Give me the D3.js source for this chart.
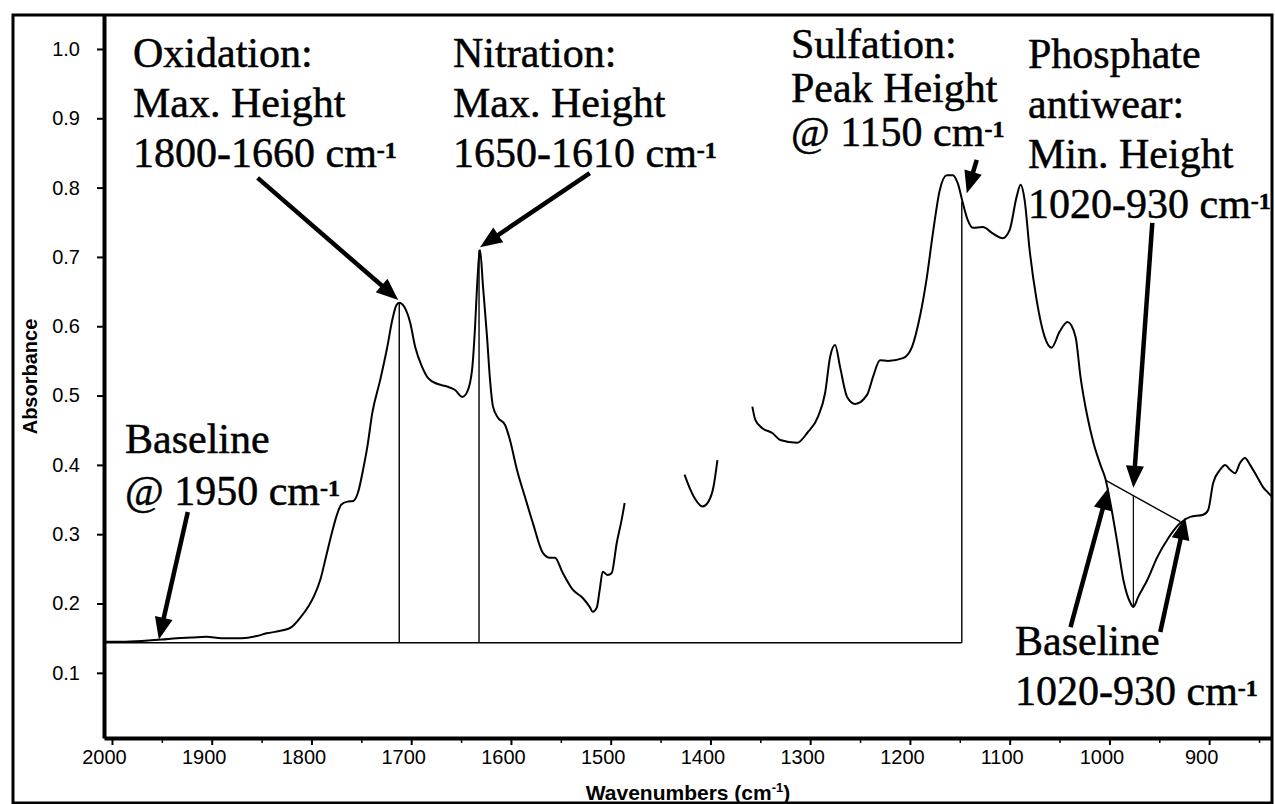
<!DOCTYPE html>
<html>
<head>
<meta charset="utf-8">
<script src="https://cdn.jsdelivr.net/npm/d3@7"></script>
<style>
  body { margin: 0; background: #fff; }
  svg { display: block; }
</style>
</head>
<body>
<div id="chart"></div>
<script>
// spectrum in three pieces (gaps where the trace is cut)
var seg1Wave = [2008,1990,1970,1950,1935,1920,1905,1890,1870,1855,1845,1830,1820,1811,1803,1797,1791,1785,1779,1774,1770,1764,1758,1753,1748,1744,1739,1731,1724,1719,1715,1712,1707,1701,1696,1689,1683,1674,1664,1656,1649,1644,1639,1636,1634,1631,1628,1624,1621,1618,1613,1606,1601,1594,1586,1578,1568,1561,1556,1548,1538,1528,1521,1518,1514,1511,1508,1503,1499,1494,1489,1486];
var seg1Abs  = [0.145,0.145,0.146,0.148,0.150,0.151,0.152,0.150,0.150,0.153,0.157,0.161,0.166,0.180,0.196,0.212,0.235,0.270,0.305,0.330,0.343,0.347,0.348,0.362,0.395,0.426,0.475,0.523,0.570,0.609,0.630,0.634,0.628,0.605,0.570,0.541,0.525,0.517,0.513,0.508,0.498,0.505,0.537,0.599,0.657,0.710,0.657,0.585,0.523,0.484,0.468,0.458,0.436,0.393,0.354,0.316,0.273,0.266,0.266,0.244,0.220,0.208,0.195,0.188,0.194,0.220,0.246,0.241,0.244,0.287,0.321,0.345];

var seg2Wave = [1426,1420,1415,1408,1402,1397,1393];
var seg2Abs  = [0.386,0.364,0.350,0.340,0.347,0.368,0.407];

var seg3Wave = [1358,1355,1348,1338,1330,1313,1303,1292,1285,1280,1275,1270,1263,1255,1243,1237,1230,1222,1207,1198,1190,1183,1177,1170,1163,1157,1152,1147,1142,1137,1127,1117,1107,1100,1093,1089,1085,1080,1073,1065,1058,1050,1042,1034,1029,1022,1016,1009,1004,999,992,986,979,976,971,962,952,942,929,919,906,901,896,889,884,879,874,869,864,859,852,846,841,837];
var seg3Abs  = [0.484,0.465,0.453,0.446,0.436,0.432,0.446,0.470,0.504,0.556,0.573,0.541,0.498,0.488,0.501,0.527,0.551,0.550,0.554,0.570,0.614,0.671,0.734,0.797,0.818,0.818,0.806,0.778,0.753,0.742,0.743,0.734,0.727,0.739,0.787,0.804,0.782,0.710,0.638,0.585,0.569,0.592,0.606,0.585,0.527,0.469,0.432,0.400,0.380,0.345,0.287,0.234,0.201,0.195,0.210,0.234,0.267,0.292,0.316,0.325,0.328,0.335,0.374,0.393,0.400,0.393,0.388,0.403,0.410,0.400,0.383,0.368,0.360,0.354];

// measurement lines: common baseline and the drops to it
var baseAbs = 0.1435;
var baseFrom = 2008, baseTo = 1148;
var dropWave = [1712, 1632, 1148];
var dropTop  = [0.634, 0.710, 0.780];

// phosphate: local baseline and min height
var phosWave = [1004, 929];
var phosAbs  = [0.378, 0.318];
var phosDropWave = 976, phosDropTop = 0.356, phosDropBottom = 0.195;

// arrows [fromWave, fromAbs, toWave, toAbs]
var arrows = [
  [1854, 0.814, 1713, 0.638],
  [1521, 0.821, 1631, 0.714],
  [1133, 0.840, 1143, 0.792],
  [957, 0.749, 976, 0.367],
  [1924, 0.332, 1953, 0.148],
  [1039, 0.166, 1001, 0.367],
  [949, 0.159, 924, 0.324]
];

var xTicks = [2000,1900,1800,1700,1600,1500,1400,1300,1200,1100,1000,900];
var yTicks = [0.1,0.2,0.3,0.4,0.5,0.6,0.7,0.8,0.9,1.0];

var W = 1275, H = 804;
var pLeft = 104, pRight = 1272, pTop = 15, pBottom = 738;

var svg = d3.select("#chart").append("svg")
    .attr("width", W)
    .attr("height", H);

// outer frame
svg.append("rect")
    .attr("x", 13).attr("y", 15)
    .attr("width", 1259).attr("height", 788)
    .attr("fill", "none")
    .attr("stroke", "#000")
    .attr("stroke-width", 3);

var x = d3.scaleLinear().domain([2008, 837]).range([pLeft, pRight]);
var y = d3.scaleLinear().domain([0.006, 1.049]).range([pBottom, pTop]);

var sans = "'Liberation Sans', Arial, sans-serif";

// minor x ticks
svg.append("g")
    .attr("transform", "translate(0," + pBottom + ")")
    .call(d3.axisBottom(x).tickValues(d3.range(1950, 837, -100)).tickSize(5).tickSizeOuter(0).tickFormat(""))
    .call(function(g) { g.select(".domain").remove(); })
    .selectAll("line").attr("stroke-width", 1.5);

var xAxis = svg.append("g")
    .attr("transform", "translate(0," + pBottom + ")")
    .call(d3.axisBottom(x).tickValues(xTicks).tickSize(7).tickSizeOuter(0).tickPadding(5).tickFormat(d3.format("d")));
xAxis.select(".domain").attr("stroke-width", 4);
xAxis.selectAll("line").attr("stroke-width", 2);
// labels sit a little left of their ticks in the original
xAxis.selectAll("text").attr("font-family", sans).attr("font-size", 20).attr("dx", -8);

var yAxis = svg.append("g")
    .attr("transform", "translate(" + pLeft + ",0)")
    .call(d3.axisLeft(y).tickValues(yTicks).tickSize(7).tickSizeOuter(0).tickPadding(16).tickFormat(d3.format(".1f")));
yAxis.select(".domain").attr("stroke-width", 4);
yAxis.selectAll("line").attr("stroke-width", 2);
yAxis.selectAll("text").attr("font-family", sans).attr("font-size", 20).attr("x", -24);

// axis titles
svg.append("text")
    .attr("transform", "translate(37," + ((pTop + pBottom) / 2) + ") rotate(-90)")
    .attr("text-anchor", "middle")
    .attr("font-family", sans)
    .attr("font-weight", "bold")
    .attr("font-size", 20)
    .text("Absorbance");

var xt = svg.append("text")
    .attr("x", (pLeft + pRight) / 2)
    .attr("y", 800)
    .attr("text-anchor", "middle")
    .attr("font-family", sans)
    .attr("font-weight", "bold")
    .attr("font-size", 21);
xt.append("tspan").text("Wavenumbers (cm");
xt.append("tspan").attr("font-size", 13).attr("dy", -8).text("-1");
xt.append("tspan").attr("dy", 8).text(")");

// spectrum
var line = d3.line()
    .x(function(d) { return x(d[0]); })
    .y(function(d) { return y(d[1]); })
    .curve(d3.curveMonotoneX);

[[seg1Wave, seg1Abs], [seg2Wave, seg2Abs], [seg3Wave, seg3Abs]].forEach(function(s) {
  svg.append("path")
      .datum(s[0].map(function(w, i) { return [w, s[1][i]]; }))
      .attr("d", line)
      .attr("fill", "none")
      .attr("stroke", "#000")
      .attr("stroke-width", 2);
});

// baseline and drops
svg.append("line")
    .attr("x1", x(baseFrom)).attr("x2", x(baseTo))
    .attr("y1", y(baseAbs)).attr("y2", y(baseAbs))
    .attr("stroke", "#000").attr("stroke-width", 1.6);

dropWave.forEach(function(w, i) {
  svg.append("line")
      .attr("x1", x(w)).attr("x2", x(w))
      .attr("y1", y(baseAbs)).attr("y2", y(dropTop[i]))
      .attr("stroke", "#000").attr("stroke-width", 1.4);
});

svg.append("line")
    .attr("x1", x(phosWave[0])).attr("y1", y(phosAbs[0]))
    .attr("x2", x(phosWave[1])).attr("y2", y(phosAbs[1]))
    .attr("stroke", "#000").attr("stroke-width", 1.4);
svg.append("line")
    .attr("x1", x(phosDropWave)).attr("x2", x(phosDropWave))
    .attr("y1", y(phosDropTop)).attr("y2", y(phosDropBottom))
    .attr("stroke", "#000").attr("stroke-width", 1.2);

// arrows
arrows.forEach(function(a) {
  var x1 = x(a[0]), y1 = y(a[1]), x2 = x(a[2]), y2 = y(a[3]);
  var dx = x2 - x1, dy = y2 - y1, len = Math.sqrt(dx * dx + dy * dy);
  var ux = dx / len, uy = dy / len;
  var hl = 22, hw = 9;
  var bx = x2 - ux * hl, by = y2 - uy * hl;
  svg.append("line")
      .attr("x1", x1).attr("y1", y1)
      .attr("x2", bx + ux * 2).attr("y2", by + uy * 2)
      .attr("stroke", "#000").attr("stroke-width", 4.5);
  svg.append("path")
      .attr("d", "M" + x2 + "," + y2 +
                 "L" + (bx - uy * hw) + "," + (by + ux * hw) +
                 "L" + (bx + uy * hw) + "," + (by - ux * hw) + "Z")
      .attr("fill", "#000");
});

// annotation text (scan looks heavy, so a thin stroke is added)
var notes = [
  {x: 133, y: 67, dy: 50, lines: ["Oxidation:", "Max. Height", "1800-1660 cm"]},
  {x: 453, y: 67, dy: 50, lines: ["Nitration:", "Max. Height", "1650-1610 cm"]},
  {x: 791, y: 58, dy: 44, lines: ["Sulfation:", "Peak Height", "@ 1150 cm"]},
  {x: 1028, y: 68, dy: 50, lines: ["Phosphate", "antiwear:", "Min. Height", "1020-930 cm"]},
  {x: 125, y: 453, dy: 52, lines: ["Baseline", "@ 1950 cm"]},
  {x: 1015, y: 655, dy: 50, lines: ["Baseline", "1020-930 cm"]}
];

notes.forEach(function(n) {
  n.lines.forEach(function(t, i) {
    var tx = svg.append("text")
        .attr("x", n.x)
        .attr("y", n.y + i * n.dy)
        .attr("font-family", "'Liberation Serif', 'Times New Roman', serif")
        .attr("font-size", 42)
        .attr("stroke", "#000")
        .attr("stroke-width", 0.5);
    tx.append("tspan").text(t);
    if (i === n.lines.length - 1) {
      tx.append("tspan")
          .attr("font-size", 24)
          .attr("font-weight", "bold")
          .attr("dy", -9)
          .text("-1");
    }
  });
});
</script>
</body>
</html>
